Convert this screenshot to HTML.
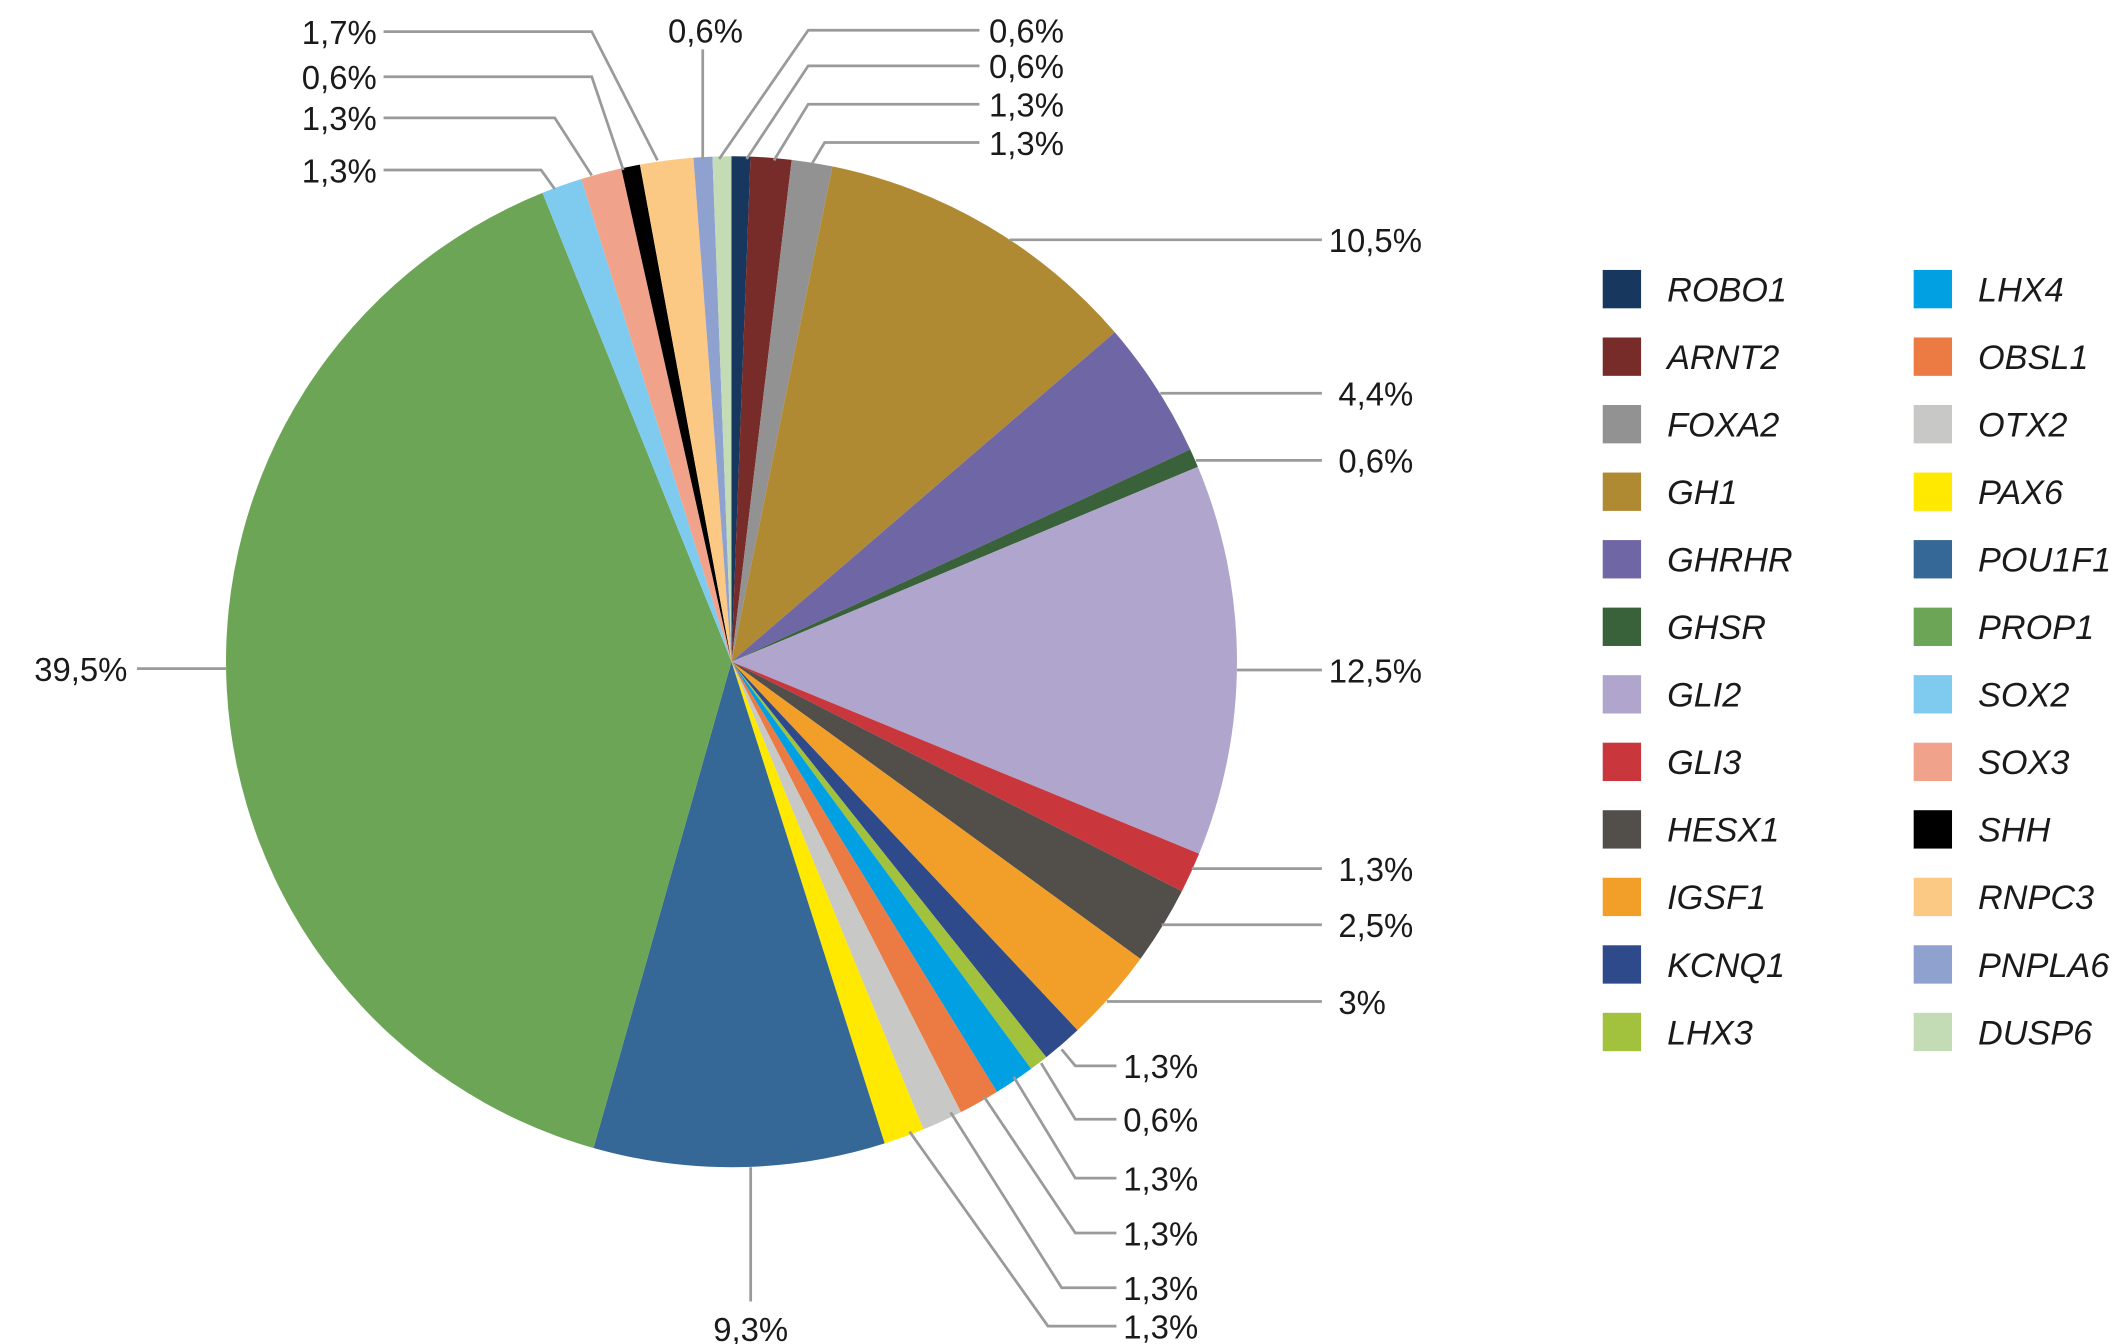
<!DOCTYPE html>
<html><head><meta charset="utf-8"><style>
html,body{margin:0;padding:0;background:#fff;}
svg{display:block;}
text{font-family:"Liberation Sans",sans-serif;font-size:24px;fill:#1a1a1a;}
.lg{font-style:italic;font-size:25px;}
</style></head><body>
<svg id="s" width="2126" height="1344" viewBox="0 0 1552 981" xmlns="http://www.w3.org/2000/svg">
<g id="pie"></g>
<g stroke="#9a9a9a" stroke-width="2" fill="none">
<line x1="737" y1="175" x2="965" y2="175"/>
<line x1="847" y1="287" x2="965" y2="287"/>
<line x1="873" y1="336" x2="965" y2="336"/>
<line x1="903" y1="489" x2="965" y2="489"/>
<line x1="870" y1="634" x2="965" y2="634"/>
<line x1="848" y1="675" x2="965" y2="675"/>
<line x1="808" y1="731" x2="965" y2="731"/>
<polyline points="775,766 785,778 815,778"/>
<polyline points="760,776 785,817 815,817"/>
<polyline points="740,786 785,860 815,860"/>
<polyline points="718,800 785,900 815,900"/>
<polyline points="694,812 775,940 815,940"/>
<polyline points="664,826 765,968 815,968"/>
<line x1="548" y1="852" x2="548" y2="950"/>
<line x1="100" y1="488" x2="165" y2="488"/>
<polyline points="280,124 395,124 405,138"/>
<polyline points="280,86 405,86 432,128"/>
<polyline points="280,56 432,56 455,124"/>
<polyline points="280,23 432,23 480,117"/>
<line x1="513" y1="36" x2="513" y2="116"/>
<polyline points="715,22 590,22 525,116"/>
<polyline points="715,48 590,48 545,116"/>
<polyline points="715,76 590,76 565,117"/>
<polyline points="715,104 602,104 593,119"/>
</g>
<g>
<text x="970" y="184">10,5%</text>
<text x="977" y="296">4,4%</text>
<text x="977" y="345">0,6%</text>
<text x="970" y="498">12,5%</text>
<text x="977" y="643">1,3%</text>
<text x="977" y="684">2,5%</text>
<text x="977" y="740">3%</text>
<text x="820" y="787">1,3%</text>
<text x="820" y="826">0,6%</text>
<text x="820" y="869">1,3%</text>
<text x="820" y="909">1,3%</text>
<text x="820" y="949">1,3%</text>
<text x="820" y="977">1,3%</text>
<text x="548" y="979" text-anchor="middle">9,3%</text>
<text x="93" y="497" text-anchor="end">39,5%</text>
<text x="275" y="133" text-anchor="end">1,3%</text>
<text x="275" y="95" text-anchor="end">1,3%</text>
<text x="275" y="65" text-anchor="end">0,6%</text>
<text x="275" y="32" text-anchor="end">1,7%</text>
<text x="515" y="31" text-anchor="middle">0,6%</text>
<text x="722" y="31">0,6%</text>
<text x="722" y="57">0,6%</text>
<text x="722" y="85">1,3%</text>
<text x="722" y="113">1,3%</text>
</g>
<g id="leg"></g>
</svg>
<script>
var d=[["ROBO1",0.6,"#17375e"],["ARNT2",1.3,"#772c2a"],["FOXA2",1.3,"#929292"],["GH1",10.5,"#b08a33"],["GHRHR",4.4,"#6f66a5"],["GHSR",0.6,"#3a623a"],["GLI2",12.5,"#afa5cd"],["GLI3",1.3,"#c9373c"],["HESX1",2.5,"#524f4a"],["IGSF1",3,"#f29f2a"],["KCNQ1",1.3,"#2f4a8b"],["LHX3",0.6,"#a2c13d"],["LHX4",1.3,"#00a0e3"],["OBSL1",1.3,"#eb7a43"],["OTX2",1.3,"#c8c8c6"],["PAX6",1.3,"#ffe900"],["POU1F1",9.3,"#356897"],["PROP1",39.5,"#6ca555"],["SOX2",1.3,"#7ecbef"],["SOX3",1.3,"#f0a38a"],["SHH",0.6,"#000000"],["RNPC3",1.7,"#fcc985"],["PNPLA6",0.6,"#8fa1cf"],["DUSP6",0.6,"#c4dcb5"]];
var cx=534,cy=483,r=369,a=0,h="",l="";
function pt(t){return (cx+r*Math.sin(t)).toFixed(2)+","+(cy-r*Math.cos(t)).toFixed(2);}
d.forEach(function(e,i){var b=a+e[1]/100*2*Math.PI;
h+='<path d="M'+cx+','+cy+' L'+pt(a)+' A'+r+','+r+' 0 '+((b-a)>Math.PI?1:0)+',1 '+pt(b)+' Z" fill="'+e[2]+'"/>';a=b;
var col=i<12?0:1,row=i%12,x=col?1397:1170,y=211+row*49.3;
l+='<rect x="'+x+'" y="'+(y-14)+'" width="28" height="28" fill="'+e[2]+'"/><text class="lg" x="'+(x+47)+'" y="'+(y+9)+'">'+e[0]+'</text>';});
document.getElementById("pie").innerHTML=h;document.getElementById("leg").innerHTML=l;
</script>
</body></html>
